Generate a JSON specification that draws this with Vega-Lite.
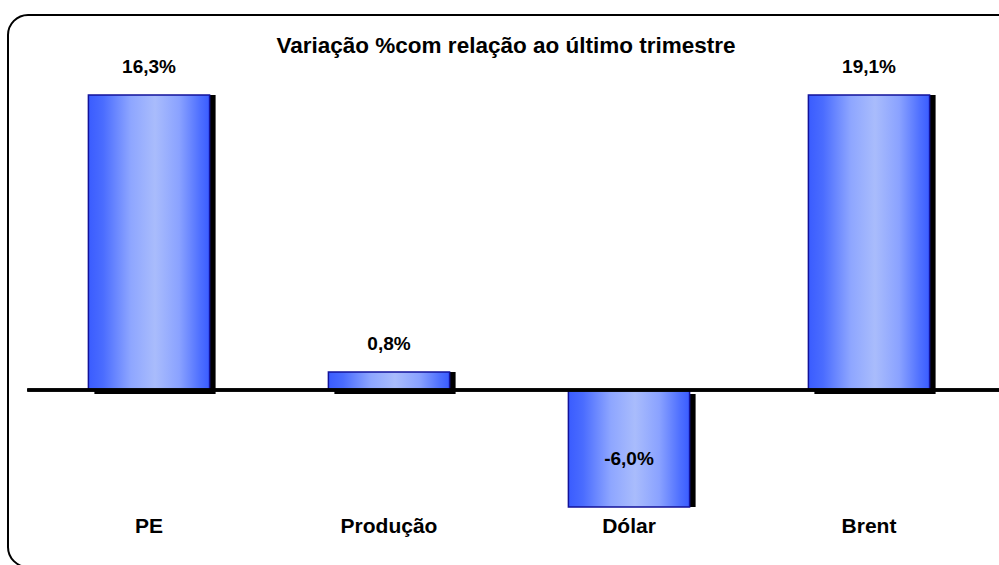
{
  "$schema": "https://vega.github.io/schema/vega-lite/v6.json",
  "width": 1010,
  "height": 552,
  "autosize": "none",
  "padding": {"left": 8, "top": 15, "right": 0, "bottom": 0},
  "background": "white",
  "title": {
    "text": "Variação %com relação ao último trimestre",
    "anchor": "middle",
    "frame": "group",
    "orient": "top",
    "offset": -53,
    "baseline": "middle",
    "dx": -7,
    "font": "Liberation Sans",
    "fontSize": 22.5,
    "fontWeight": "bold",
    "color": "black"
  },
  "config": {
    "view": {"stroke": "black", "strokeWidth": 2, "cornerRadius": 20, "fill": "white"}
  },
  "data": {
    "values": [
      {"cat": "PE", "value": 16.3, "rotulo": "16,3%"},
      {"cat": "Produção", "value": 0.8, "rotulo": "0,8%"},
      {"cat": "Dólar", "value": -6.0, "rotulo": "-6,0%"},
      {"cat": "Brent", "value": 19.1, "rotulo": "19,1%"}
    ]
  },
  "layer": [
    {
      "mark": {"type": "bar", "color": "black", "xOffset": 6, "y2Offset": 4},
      "encoding": {
        "x": {"field": "cat", "type": "nominal", "sort": null, "axis": null,
              "scale": {"range": [21, 981], "paddingInner": 0.495, "paddingOuter": 0.2475}},
        "y": {"field": "value", "type": "quantitative", "axis": null,
              "scale": {"domain": [-5.2, 13.1], "range": [492, 80], "clamp": true, "nice": false, "zero": false}},
        "y2": {"datum": 0}
      }
    },
    {
      "mark": {
        "type": "bar",
        "fill": {
          "gradient": "linear", "x1": 0, "x2": 1, "y1": 0, "y2": 0,
          "stops": [
            {"offset": 0, "color": "#3a5cff"},
            {"offset": 0.12, "color": "#4a6cff"},
            {"offset": 0.35, "color": "#8ea6ff"},
            {"offset": 0.55, "color": "#a9bcfc"},
            {"offset": 0.75, "color": "#8aa2ff"},
            {"offset": 0.92, "color": "#4f70ff"},
            {"offset": 1, "color": "#3a5cff"}
          ]
        },
        "stroke": "#12129a",
        "strokeWidth": 1.5
      },
      "encoding": {
        "x": {"field": "cat", "type": "nominal", "sort": null},
        "y": {"field": "value", "type": "quantitative"},
        "y2": {"datum": 0}
      }
    },
    {
      "mark": {"type": "rule", "color": "black", "strokeWidth": 3, "xOffset": -61, "x2Offset": 90},
      "encoding": {
        "x": {"datum": "PE", "type": "nominal", "bandPosition": 0},
        "x2": {"datum": "Brent", "bandPosition": 1},
        "y": {"datum": 0}
      }
    },
    {
      "transform": [{"filter": "datum.value > 0"}],
      "mark": {"type": "text", "font": "Liberation Sans", "fontSize": 19, "fontWeight": "bold", "color": "black", "baseline": "middle", "dy": -28},
      "encoding": {
        "x": {"field": "cat", "type": "nominal", "sort": null},
        "y": {"field": "value", "type": "quantitative"},
        "text": {"field": "rotulo"}
      }
    },
    {
      "transform": [{"filter": "datum.value < 0"}],
      "mark": {"type": "text", "font": "Liberation Sans", "fontSize": 19, "fontWeight": "bold", "color": "black", "baseline": "middle", "dy": -48},
      "encoding": {
        "x": {"field": "cat", "type": "nominal", "sort": null},
        "y": {"field": "value", "type": "quantitative"},
        "text": {"field": "rotulo"}
      }
    },
    {
      "mark": {"type": "text", "font": "Liberation Sans", "fontSize": 21, "fontWeight": "bold", "color": "black", "baseline": "middle", "dy": 20},
      "encoding": {
        "x": {"field": "cat", "type": "nominal", "sort": null},
        "y": {"datum": -5.2},
        "text": {"field": "cat"}
      }
    }
  ]
}
